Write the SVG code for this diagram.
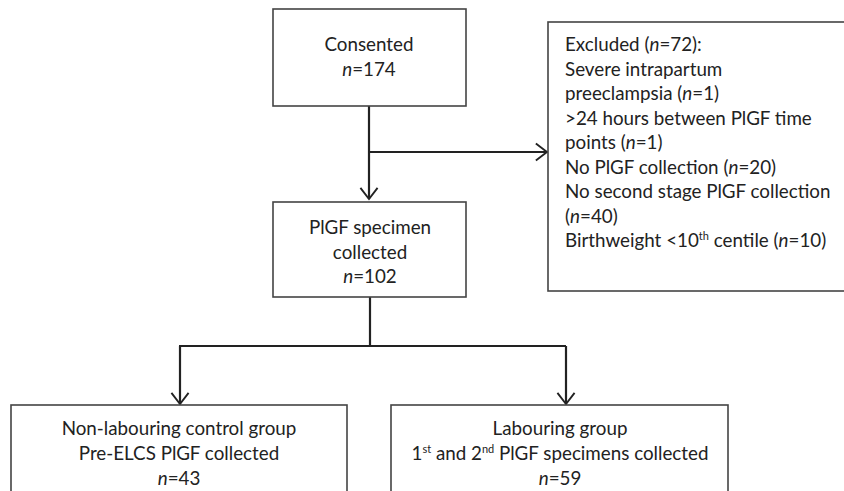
<svg xmlns="http://www.w3.org/2000/svg" width="844" height="491" viewBox="0 0 844 491">
<defs>
<marker id="vh" markerUnits="userSpaceOnUse" markerWidth="24" markerHeight="24" viewBox="-14 -12 28 24" refX="0" refY="0" orient="auto">
<path d="M-13,-10 L0,0 L-13,10" fill="none" stroke="#222" stroke-width="2.2"/>
</marker>
</defs>
<style>
.box{fill:#fff;stroke:#444;stroke-width:1.6}
.t{font-family:Lato,"Liberation Sans",sans-serif;font-size:18.8px;fill:#222}
.c{text-anchor:middle}
.ln{stroke:#222;stroke-width:2.2;fill:none}
.sup{font-size:11px}
</style>
<rect width="844" height="491" fill="#fff"/>
<g id="connectors">
<line class="ln" x1="369" y1="106" x2="369" y2="199" marker-end="url(#vh)"/>
<line class="ln" x1="369" y1="152" x2="547" y2="152" marker-end="url(#vh)"/>
<line class="ln" x1="370" y1="297" x2="370" y2="346"/>
<line class="ln" x1="179" y1="346" x2="566" y2="346"/>
<line class="ln" x1="180" y1="346" x2="180" y2="404" marker-end="url(#vh)"/>
<line class="ln" x1="566" y1="346" x2="566" y2="404" marker-end="url(#vh)"/>
</g>
<g id="consented">
<rect class="box" x="273" y="9" width="193" height="97"/>
<text class="t c" x="369" y="51">Consented</text>
<text class="t c" x="369" y="76"><tspan font-style="italic">n</tspan>=174</text>
</g>
<g id="excluded">
<rect class="box" x="548" y="22" width="310" height="269"/>
<text class="t" x="565" y="51">Excluded (<tspan font-style="italic">n</tspan>=72):</text>
<text class="t" x="565" y="75.5">Severe intrapartum</text>
<text class="t" x="565" y="100">preeclampsia (<tspan font-style="italic">n</tspan>=1)</text>
<text class="t" x="565" y="124.5">&gt;24 hours between PlGF time</text>
<text class="t" x="565" y="149">points (<tspan font-style="italic">n</tspan>=1)</text>
<text class="t" x="565" y="173.5">No PlGF collection (<tspan font-style="italic">n</tspan>=20)</text>
<text class="t" x="565" y="198">No second stage PlGF collection</text>
<text class="t" x="565" y="222.5">(<tspan font-style="italic">n</tspan>=40)</text>
<text class="t" x="565" y="247">Birthweight &lt;10<tspan class="sup" dy="-7">th</tspan><tspan dy="7"> centile (</tspan><tspan font-style="italic">n</tspan>=10)</text>
</g>
<g id="plgf">
<rect class="box" x="273" y="202" width="193" height="95"/>
<text class="t c" x="370" y="234">PlGF specimen</text>
<text class="t c" x="370" y="259">collected</text>
<text class="t c" x="370" y="283"><tspan font-style="italic">n</tspan>=102</text>
</g>
<g id="nonlabouring">
<rect class="box" x="11" y="405" width="336" height="100"/>
<text class="t c" x="179" y="435">Non-labouring control group</text>
<text class="t c" x="179" y="460">Pre-ELCS PlGF collected</text>
<text class="t c" x="179" y="485"><tspan font-style="italic">n</tspan>=43</text>
</g>
<g id="labouring">
<rect class="box" x="391" y="405" width="337" height="100"/>
<text class="t c" x="560" y="435">Labouring group</text>
<text class="t c" x="560" y="460">1<tspan class="sup" dy="-7">st</tspan><tspan dy="7"> and 2</tspan><tspan class="sup" dy="-7">nd</tspan><tspan dy="7"> PlGF specimens collected</tspan></text>
<text class="t c" x="560" y="485"><tspan font-style="italic">n</tspan>=59</text>
</g>
</svg>
